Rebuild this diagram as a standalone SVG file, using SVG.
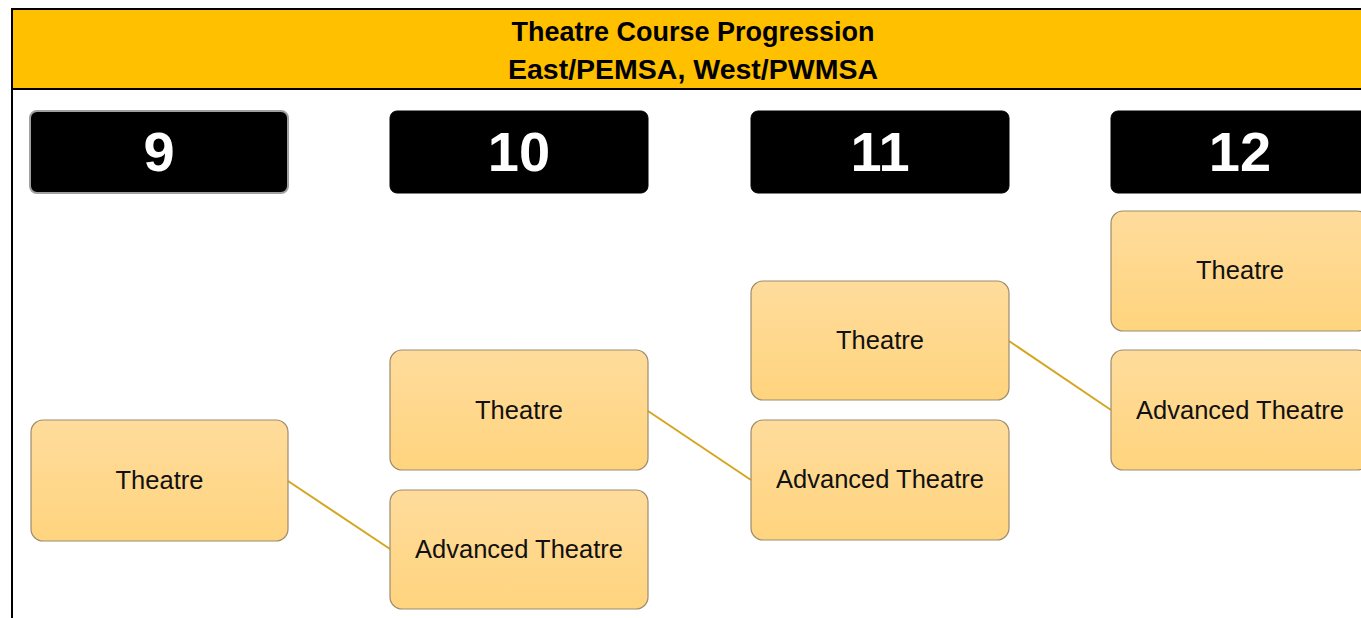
<svg xmlns="http://www.w3.org/2000/svg" width="1361" height="618" viewBox="0 0 1361 618">
<defs>
<linearGradient id="og" x1="0" y1="0" x2="0" y2="1">
<stop offset="0" stop-color="#FFDC9C"/>
<stop offset="1" stop-color="#FFD47E"/>
</linearGradient>
<style>
.grade{fill:#000;stroke:#000;stroke-width:1}
.gtxt{font-family:"Liberation Sans",Arial,sans-serif;font-weight:bold;font-size:56px;fill:#fff;text-anchor:middle}
.box{fill:url(#og);stroke:#9C8B6E;stroke-width:1.2}
.btxt{font-family:"Liberation Sans",Arial,sans-serif;font-size:25.5px;fill:#111;text-anchor:middle}
.title{font-family:"Liberation Sans",Arial,sans-serif;font-weight:bold;font-size:27px;fill:#000;text-anchor:middle}
.conn{stroke:#D6A520;stroke-width:2;fill:none}
</style>
</defs>
<rect width="1361" height="618" fill="#fff"/>
<g id="header">
<rect x="12" y="9" width="1352" height="80" fill="#FFC000" stroke="#000" stroke-width="2"/>
<line x1="12" y1="9" x2="12" y2="618" stroke="#000" stroke-width="2"/>
<text class="title" x="693" y="41">Theatre Course Progression</text>
<text class="title" x="693" y="79" textLength="370" lengthAdjust="spacingAndGlyphs">East/PEMSA, West/PWMSA</text>
</g>
<g id="connectors">
<line class="conn" x1="288" y1="481" x2="390" y2="549"/>
<line class="conn" x1="648" y1="411" x2="751" y2="480"/>
<line class="conn" x1="1009" y1="341" x2="1111" y2="410"/>
</g>
<g id="grade9"><rect class="grade" x="30" y="111" width="258" height="82" rx="7" style="stroke:#A0A0A0;stroke-width:2"/><text class="gtxt" x="159" y="171">9</text></g>
<g id="grade10"><rect class="grade" x="390" y="111" width="258" height="82" rx="7"/><text class="gtxt" x="519" y="171">10</text></g>
<g id="grade11"><rect class="grade" x="751" y="111" width="258" height="82" rx="7"/><text class="gtxt" x="880" y="171">11</text></g>
<g id="grade12"><rect class="grade" x="1111" y="111" width="258" height="82" rx="7"/><text class="gtxt" x="1240" y="171">12</text></g>
<g id="t9"><rect class="box" x="31" y="420" width="257" height="121" rx="12"/><text class="btxt" x="159.5" y="489">Theatre</text></g>
<g id="t10"><rect class="box" x="390" y="350" width="258" height="120" rx="12"/><text class="btxt" x="519" y="419">Theatre</text></g>
<g id="a10"><rect class="box" x="390" y="490" width="258" height="119" rx="12"/><text class="btxt" x="519" y="558">Advanced Theatre</text></g>
<g id="t11"><rect class="box" x="751" y="281" width="258" height="119" rx="12"/><text class="btxt" x="880" y="349">Theatre</text></g>
<g id="a11"><rect class="box" x="751" y="420" width="258" height="120" rx="12"/><text class="btxt" x="880" y="488">Advanced Theatre</text></g>
<g id="t12"><rect class="box" x="1111" y="211" width="258" height="120" rx="12"/><text class="btxt" x="1240" y="279">Theatre</text></g>
<g id="a12"><rect class="box" x="1111" y="350" width="258" height="120" rx="12"/><text class="btxt" x="1240" y="419">Advanced Theatre</text></g>
</svg>
